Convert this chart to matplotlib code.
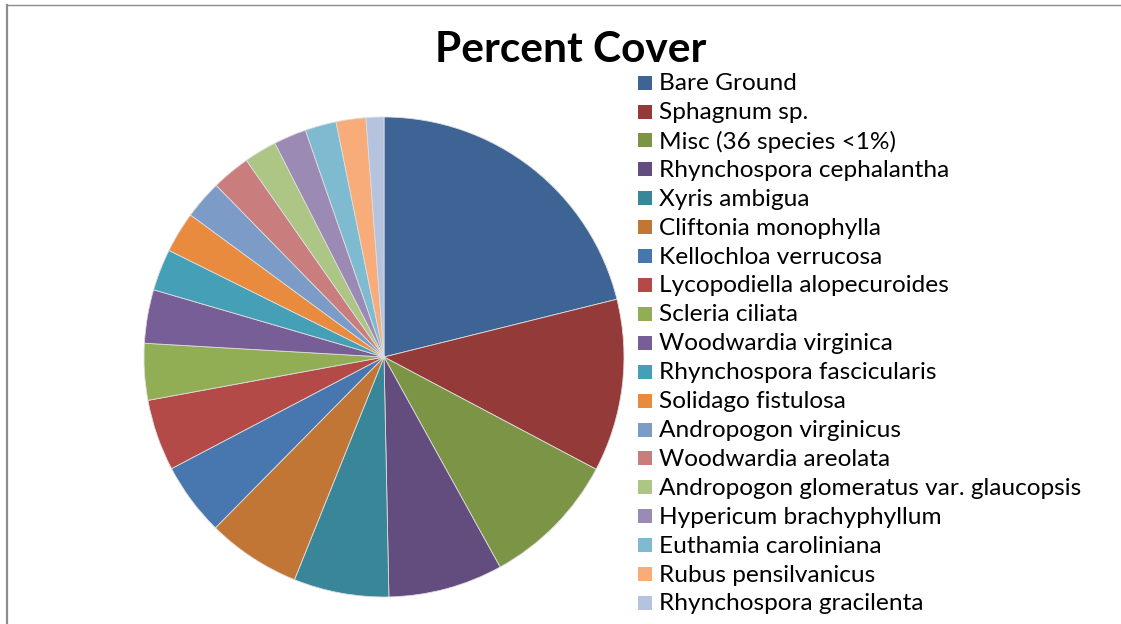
import matplotlib
matplotlib.use("Agg")
import matplotlib.pyplot as plt
from matplotlib.patches import Rectangle
from matplotlib.lines import Line2D

# Percent cover per species
species = [
    "Bare Ground", "Sphagnum sp.", "Misc (36 species <1%)",
    "Rhynchospora cephalantha", "Xyris ambigua", "Cliftonia monophylla",
    "Kellochloa verrucosa", "Lycopodiella alopecuroides", "Scleria ciliata",
    "Woodwardia virginica", "Rhynchospora fascicularis", "Solidago fistulosa",
    "Andropogon virginicus", "Woodwardia areolata",
    "Andropogon glomeratus var. glaucopsis", "Hypericum brachyphyllum",
    "Euthamia caroliniana", "Rubus pensilvanicus", "Rhynchospora gracilenta",
]
cover = [21.1, 11.6, 9.2, 7.7, 6.4, 6.3, 4.9, 4.8, 3.8, 3.6,
         2.8, 2.75, 2.6, 2.6, 2.2, 2.2, 2.1, 2.0, 1.2]
colors = ["#3D6495", "#943B3A", "#7B9446", "#634C7E", "#398699", "#C27635",
          "#4877B0", "#B34A48", "#91AE54", "#785E96", "#45A0B7", "#E98B3E",
          "#7D9BC7", "#C97D7C", "#AEC685", "#9B8AB4", "#7FBBD0", "#F7AC7A",
          "#B5C3DE"]

W, H = 1121, 624
fig = plt.figure(figsize=(W / 100, H / 100), dpi=100)
plt.rcParams['font.family'] = ['Lato', 'DejaVu Sans']

# pie centred at (384, 357) px, radius 240 px
cx, cy, r = 384, 357, 240
ax = fig.add_axes([(cx - r) / W, (H - cy - r) / H, 2 * r / W, 2 * r / H])
ax.pie(cover, colors=colors, startangle=90, counterclock=False,
       radius=1.0, wedgeprops=dict(edgecolor="#dddddd", linewidth=0.6))
ax.set_xlim(-1, 1)
ax.set_ylim(-1, 1)
ax.set_aspect("equal")
ax.axis("off")

fig.text(571 / W, 1 - 62 / H, "Percent Cover", ha="center", va="baseline",
         fontsize=30.5, fontweight="bold")

# legend
for i, (name, col) in enumerate(zip(species, colors)):
    yc = 82.7 + i * 28.9
    fig.patches.append(Rectangle((638 / W, 1 - (yc + 7) / H), 14 / W, 14 / H,
                                 transform=fig.transFigure, facecolor=col,
                                 edgecolor="none"))
    fig.text(659 / W, 1 - (yc + 1) / H, name, ha="left", va="center",
             fontsize=17.6, color="black")

# chart-area border (left and top edges visible)
fig.add_artist(Line2D([7 / W, 7 / W], [0, 1 - 5 / H], transform=fig.transFigure,
                      color="#8c8c8c", linewidth=1.6))
fig.add_artist(Line2D([7 / W, 1], [1 - 5 / H, 1 - 5 / H], transform=fig.transFigure,
                      color="#8c8c8c", linewidth=1.0))

fig.savefig("out.png", dpi=100)
